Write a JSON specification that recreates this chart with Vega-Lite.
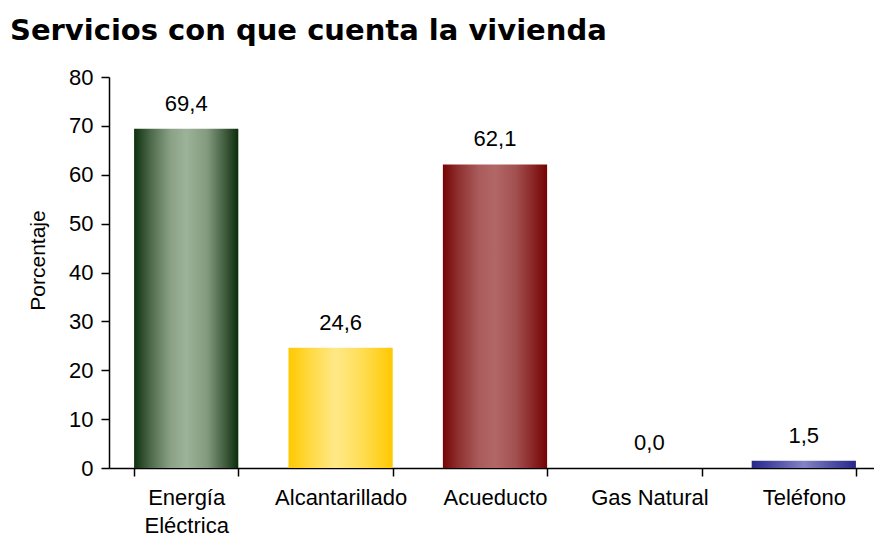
{
  "$schema": "https://vega.github.io/schema/vega-lite/v6.json",
  "width": 772,
  "height": 391,
  "autosize": {"type": "none"},
  "padding": {"left": 109, "top": 77, "right": 0, "bottom": 70},
  "background": "white",
  "config": {
    "locale": {"number": {"decimal": ",", "thousands": ".", "grouping": [3], "currency": ["", ""]}},
    "view": {"stroke": null},
    "font": "Liberation Sans"
  },
  "title": {
    "text": "Servicios con que cuenta la vivienda",
    "anchor": "start",
    "frame": "group",
    "dx": -99,
    "font": "DejaVu Sans",
    "fontSize": 29,
    "fontWeight": "bold",
    "color": "#000000",
    "baseline": "alphabetic",
    "offset": -3
  },
  "data": {
    "values": [
      {"servicio": "Energía Eléctrica", "porcentaje": 69.4},
      {"servicio": "Alcantarillado", "porcentaje": 24.6},
      {"servicio": "Acueducto", "porcentaje": 62.1},
      {"servicio": "Gas Natural", "porcentaje": 0.0},
      {"servicio": "Teléfono", "porcentaje": 1.5}
    ]
  },
  "encoding": {
    "x": {
      "field": "servicio",
      "type": "nominal",
      "sort": null,
      "scale": {"paddingInner": 0.325, "paddingOuter": 0.1625},
      "axis": {
        "title": null,
        "labelAngle": 0,
        "tickBand": "extent",
        "tickSize": 8,
        "tickColor": "#000000",
        "tickWidth": 1.5,
        "domainColor": "#000000",
        "domainWidth": 1.5,
        "labelPadding": 11,
        "labelFontSize": 22,
        "labelColor": "#000000",
        "labelLineHeight": 28,
        "labelBaseline": "top",
        "labelExpr": "datum.label == 'Energía Eléctrica' ? ['Energía', 'Eléctrica'] : datum.label"
      }
    },
    "y": {
      "field": "porcentaje",
      "type": "quantitative",
      "scale": {"domain": [0, 80], "nice": false},
      "axis": {
        "title": "Porcentaje",
        "titleFontSize": 21,
        "titleFontWeight": "normal",
        "titleColor": "#000000",
        "titlePadding": 20,
        "titleY": 183,
        "values": [0, 10, 20, 30, 40, 50, 60, 70, 80],
        "grid": false,
        "tickSize": 8,
        "tickColor": "#000000",
        "tickWidth": 1.5,
        "domainColor": "#000000",
        "domainWidth": 1.5,
        "labelFontSize": 22,
        "labelColor": "#000000",
        "labelPadding": 8
      }
    }
  },
  "layer": [
    {
      "transform": [{"filter": "datum.servicio == 'Energía Eléctrica'"}],
      "mark": {"type": "bar", "color": {"gradient": "linear", "x1": 0, "x2": 1, "y1": 0, "y2": 0, "stops": [
        {"offset": 0, "color": "#0d300d"},
        {"offset": 0.15, "color": "#4a6747"},
        {"offset": 0.35, "color": "#8aa186"},
        {"offset": 0.5, "color": "#9db399"},
        {"offset": 0.7, "color": "#839a7f"},
        {"offset": 0.87, "color": "#415d3e"},
        {"offset": 1, "color": "#0a2d0a"}
      ]}}
    },
    {
      "transform": [{"filter": "datum.servicio == 'Alcantarillado'"}],
      "mark": {"type": "bar", "color": {"gradient": "linear", "x1": 0, "x2": 1, "y1": 0, "y2": 0, "stops": [
        {"offset": 0, "color": "#ffc800"},
        {"offset": 0.2, "color": "#ffd940"},
        {"offset": 0.45, "color": "#ffe888"},
        {"offset": 0.7, "color": "#ffde55"},
        {"offset": 1, "color": "#ffc800"}
      ]}}
    },
    {
      "transform": [{"filter": "datum.servicio == 'Acueducto'"}],
      "mark": {"type": "bar", "color": {"gradient": "linear", "x1": 0, "x2": 1, "y1": 0, "y2": 0, "stops": [
        {"offset": 0, "color": "#760505"},
        {"offset": 0.15, "color": "#8f3030"},
        {"offset": 0.35, "color": "#aa5c5c"},
        {"offset": 0.5, "color": "#b26767"},
        {"offset": 0.7, "color": "#a25050"},
        {"offset": 0.87, "color": "#8a2424"},
        {"offset": 1, "color": "#730303"}
      ]}}
    },
    {
      "transform": [{"filter": "datum.servicio == 'Gas Natural'"}],
      "mark": {"type": "bar", "color": "#3c3c96"}
    },
    {
      "transform": [{"filter": "datum.servicio == 'Teléfono'"}],
      "mark": {"type": "bar", "color": {"gradient": "linear", "x1": 0, "x2": 1, "y1": 0, "y2": 0, "stops": [
        {"offset": 0, "color": "#28288c"},
        {"offset": 0.2, "color": "#4a4aa2"},
        {"offset": 0.5, "color": "#8383c4"},
        {"offset": 0.8, "color": "#4a4aa2"},
        {"offset": 1, "color": "#28288c"}
      ]}}
    },
    {
      "mark": {"type": "text", "fontSize": 22, "baseline": "alphabetic", "dy": -18, "color": "#000000"},
      "encoding": {
        "text": {"field": "porcentaje", "type": "quantitative", "format": ".1f"}
      }
    }
  ]
}
